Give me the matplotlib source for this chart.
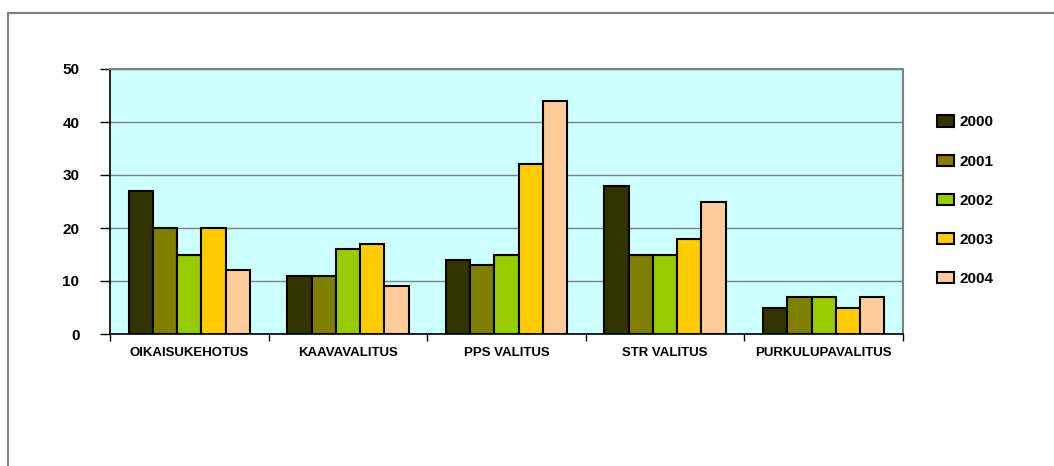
import numpy as np
import matplotlib
matplotlib.use("Agg")
import matplotlib.pyplot as plt
from matplotlib.lines import Line2D

plt.rcParams['font.family'] = ['Liberation Sans', 'DejaVu Sans']
plt.rcParams['font.weight'] = 'bold'

categories = ["OIKAISUKEHOTUS", "KAAVAVALITUS", "PPS VALITUS", "STR VALITUS", "PURKULUPAVALITUS"]
years = ["2000", "2001", "2002", "2003", "2004"]
v2000 = [27, 11, 14, 28, 5]
v2001 = [20, 11, 13, 15, 7]
v2002 = [15, 16, 15, 15, 7]
v2003 = [20, 17, 32, 18, 5]
v2004 = [12, 9, 44, 25, 7]
series = [v2000, v2001, v2002, v2003, v2004]
colors = ["#333300", "#808000", "#99CC00", "#FFCC00", "#FFCC99"]

fig = plt.figure(figsize=(10.54, 4.66), dpi=100)
# outer frame
fig.add_artist(Line2D([8/1054, 1], [1-13/466, 1-13/466], color="#808080", lw=1.5))
fig.add_artist(Line2D([8/1054, 8/1054], [0, 1-13/466], color="#808080", lw=1.5))

ax = fig.add_axes([110/1054, 1-334/466, 793/1054, 265/466])
ax.set_facecolor("#CCFFFF")

x = np.arange(len(categories))
w = 0.153
for i, (vals, c) in enumerate(zip(series, colors)):
    ax.bar(x + (i - 2) * w, vals, width=w, color=c, edgecolor="black",
           linewidth=1.5, label=years[i], zorder=3)

ax.set_xlim(-0.5, len(categories) - 0.5)
ax.set_ylim(0, 50)
ax.set_yticks(range(0, 51, 10))
ax.yaxis.grid(True, color="#808080", lw=1, zorder=0)
ax.tick_params(axis='y', labelsize=11, length=7, width=1, pad=15)
ax.set_xticks(x)
ax.set_xticklabels(categories, fontsize=9.5)
ax.tick_params(axis='x', length=0, pad=9)
ax.set_xticks(np.arange(-0.5, len(categories)), minor=True)
ax.tick_params(axis='x', which='minor', length=5, width=1)

for s in ['top', 'right']:
    ax.spines[s].set_color("#808080")
    ax.spines[s].set_linewidth(1.5)
for s in ['left', 'bottom']:
    ax.spines[s].set_color("black")
    ax.spines[s].set_linewidth(1.2)

ax.legend(loc='upper left', bbox_to_anchor=(1.035, 0.848), frameon=False,
          fontsize=11, handlelength=1.1, handleheight=0.75,
          labelspacing=1.65, handletextpad=0.4, borderaxespad=0)

fig.savefig("out.png", dpi=100)
